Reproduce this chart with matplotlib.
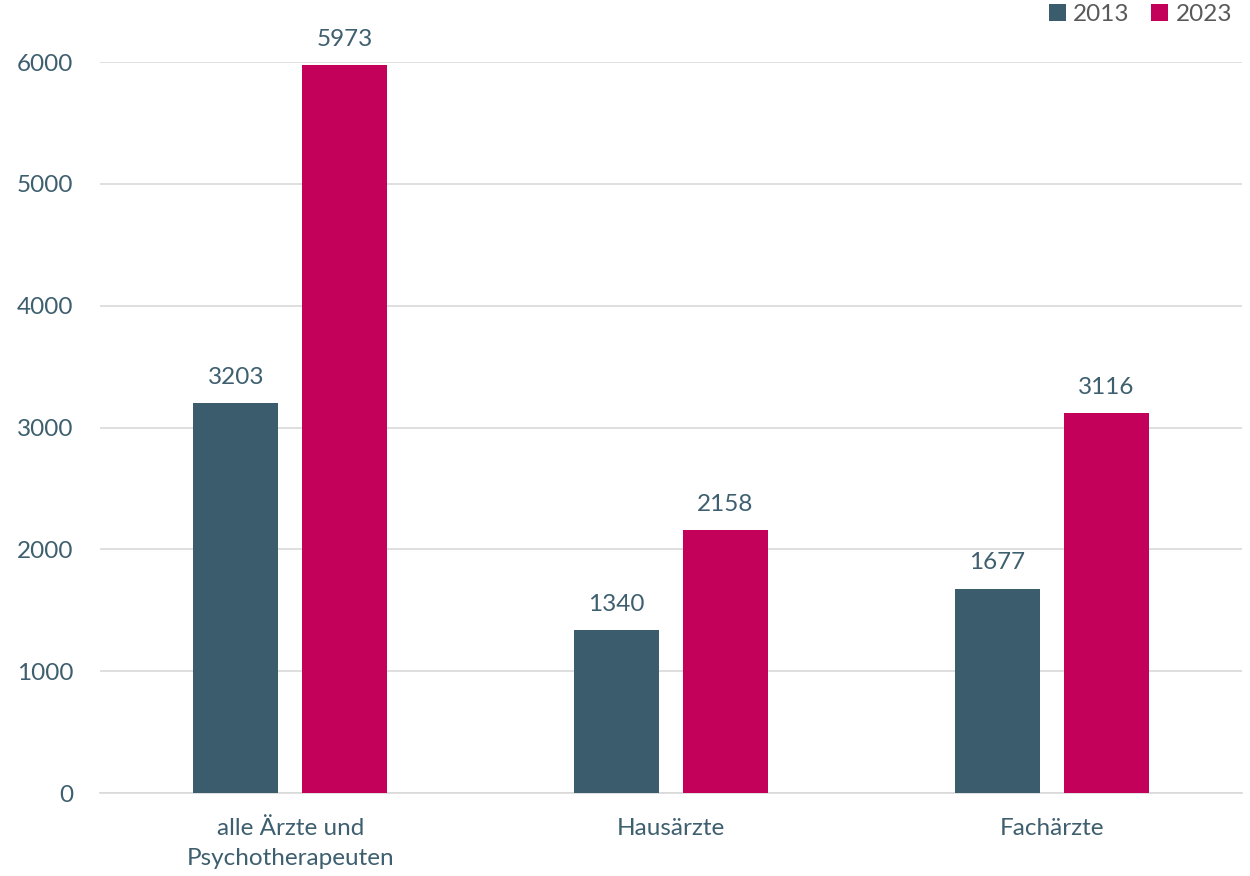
import matplotlib
matplotlib.use("Agg")
import matplotlib.pyplot as plt
import numpy as np

categories = ["alle Ärzte und\nPsychotherapeuten", "Hausärzte", "Fachärzte"]
years = ["2013", "2023"]
values_2013 = [3203, 1340, 1677]
values_2023 = [5973, 2158, 3116]

teal = "#3A5C6C"
crimson = "#C3005A"
text_color = "#3E5F6F"

plt.rcParams["font.family"] = ["Lato", "DejaVu Sans"]

fig = plt.figure(figsize=(12.5, 8.76), dpi=100)
ax = fig.add_axes([0.08, 0.0947, 0.9136, 0.8345])

x = np.arange(len(categories))
w = 0.223
off = 0.143
b1 = ax.bar(x - off, values_2013, w, color=teal, label=years[0], zorder=3)
b2 = ax.bar(x + off, values_2023, w, color=crimson, label=years[1], zorder=3)

for bars in (b1, b2):
    for rect in bars:
        h = rect.get_height()
        ax.annotate(f"{h:.0f}", (rect.get_x() + rect.get_width() / 2, h),
                    xytext=(0, 11), textcoords="offset points",
                    ha="center", va="bottom", fontsize=17.5, color=text_color,
                    annotation_clip=False)

ax.set_xlim(-0.5, 2.5)
ax.set_ylim(0, 6000)
ax.set_yticks(range(0, 6001, 1000))
ax.set_xticks(x)
ax.set_xticklabels(categories, linespacing=1.55)
ax.yaxis.grid(True, color="#D9D9D9", linewidth=1.2, zorder=0)
ax.set_axisbelow(True)
for s in ["top", "right", "left"]:
    ax.spines[s].set_visible(False)
ax.spines["bottom"].set_color("#D9D9D9")
ax.spines["bottom"].set_linewidth(1.2)
ax.tick_params(axis="both", length=0, labelsize=17.5, colors=text_color)
ax.tick_params(axis="y", pad=19)
ax.tick_params(axis="x", pad=18)

leg = ax.legend(loc="upper right", bbox_to_anchor=(1.0, 1.093), ncol=2, frameon=False,
                fontsize=17.5, handlelength=0.7, handleheight=0.7, handletextpad=0.3,
                columnspacing=0.9, borderaxespad=0)
for t in leg.get_texts():
    t.set_color("#595959")

fig.savefig("out.png", dpi=100)
